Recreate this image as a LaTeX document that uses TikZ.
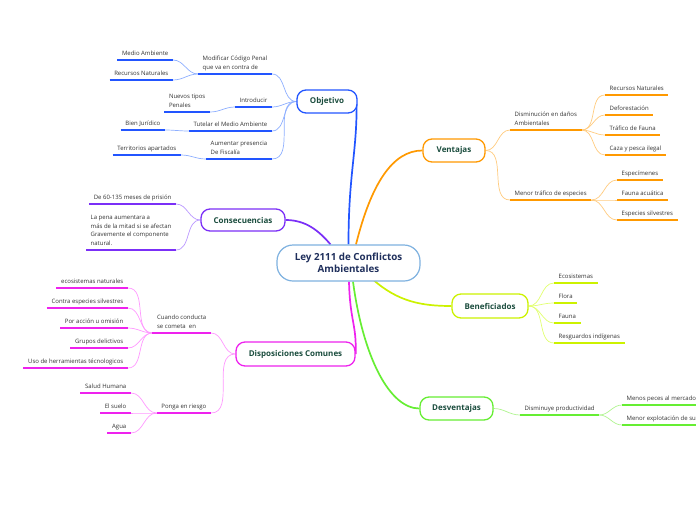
\documentclass[tikz,border=0pt]{standalone}
\usepackage{fontspec}
\setmainfont{Open Sans}
\usetikzlibrary{calc}
\definecolor{cBlue}{HTML}{2255FF}
\definecolor{lBlue}{HTML}{8FB0FF}
\definecolor{cPur}{HTML}{7B2FF7}
\definecolor{lPur}{HTML}{BB99FF}
\definecolor{cMag}{HTML}{EE22EE}
\definecolor{lMag}{HTML}{FF99FF}
\definecolor{cOra}{HTML}{FF9900}
\definecolor{lOra}{HTML}{FFCC80}
\definecolor{cYel}{HTML}{CCF200}
\definecolor{lYel}{HTML}{E2FF70}
\definecolor{cGre}{HTML}{66EE33}
\definecolor{lGre}{HTML}{B0F590}
\definecolor{topicText}{HTML}{1B4D3E}
\definecolor{rootText}{HTML}{1F2F5C}
\definecolor{rootLine}{HTML}{7FB2E0}
\definecolor{subText}{HTML}{333333}
\pgfdeclarelayer{bg}
\pgfdeclarelayer{paper}
\pgfsetlayers{paper,bg,main}
\begin{document}
\begin{tikzpicture}[x=1pt,y=-1pt,
  root/.style={draw=rootLine, line width=1.2pt, fill=white, rounded corners=16pt,
    minimum width=143pt, minimum height=36pt, font=\fontsize{9.8}{12}\selectfont\bfseries,
    text=rootText, align=center, inner sep=0pt},
  topic/.style={draw=#1, line width=1.3pt, fill=white, rounded corners=9pt,
    minimum height=23pt, font=\fontsize{8}{9}\selectfont\bfseries, text=topicText, inner sep=0pt},
  subbase/.style={font=\fontsize{6}{8.5}\selectfont, text=subText, align=left,
    inner xsep=4.5pt, inner ysep=3.3pt, text depth=1.3pt},
  lsub/.style={subbase, anchor=south east},
  rsub/.style={subbase, anchor=south west},
  ul/.style={line width=1.8pt, draw=#1},
  br/.style={line width=1.7pt, draw=#1},
  tw/.style={line width=0.7pt, draw=#1},
]
\begin{pgfonlayer}{paper}
\fill[white] (0,0) rectangle (696,520);
\end{pgfonlayer}
\useasboundingbox (0,0) rectangle (696,520);

% ---------- root and topics ----------
\node[root] (root) at (348.5,263) {Ley 2111 de Conflictos\\Ambientales};
\node[topic=cBlue, minimum width=60pt] (obj) at (327,101.5) {Objetivo};
\node[topic=cPur, minimum width=84pt, minimum height=22pt] (cons) at (243,220) {Consecuencias};
\node[topic=cMag, minimum width=119pt, minimum height=24pt] (disp) at (295.5,354) {Disposiciones Comunes};
\node[topic=cOra, minimum width=62pt] (vent) at (454,150.5) {Ventajas};
\node[topic=cYel, minimum width=76pt, minimum height=24pt] (bene) at (490,306) {Beneficiados};
\node[topic=cGre, minimum width=73pt] (desv) at (456.5,408.5) {Desventajas};

% ---------- Objetivo ----------
\node[lsub] (mod) at (272,74) {Modificar Código Penal\\que va en contra de};
\node[lsub] (intro) at (272,107) {Introducir};
\node[lsub] (tut) at (272,131) {Tutelar el Medio Ambiente};
\node[lsub] (aum) at (272,159) {Aumentar presencia\\De Fiscalía};
\node[lsub] (med) at (173,60) {Medio Ambiente};
\node[lsub] (recn) at (173,80) {Recursos Naturales};
\node[lsub] (nue) at (210,112) {Nuevos tipos\\Penales};
\node[lsub] (bien) at (165,130) {Bien Jurídico};
\node[lsub] (terr) at (181,155) {Territorios apartados};

% ---------- Consecuencias ----------
\node[lsub] (pris) at (176,204) {De 60-135 meses de prisión};
\node[lsub] (pena) at (176,250) {La pena aumentara a\\más de la mitad si se afectan\\Gravemente el componente\\natural.};

% ---------- Disposiciones ----------
\node[lsub] (cuan) at (211,333) {Cuando conducta\\se cometa\ \ en};
\node[lsub] (pong) at (211,413) {Ponga en riesgo};
\node[lsub] (eco) at (128,288) {ecosistemas naturales};
\node[lsub] (cesp) at (128,308) {Contra especies silvestres};
\node[lsub] (acc) at (128,328) {Por acción u omisión};
\node[lsub] (grup) at (128,348) {Grupos delictivos};
\node[lsub] (herr) at (128,368) {Uso de herramientas técnologicos};
\node[lsub] (salud) at (131,393) {Salud Humana};
\node[lsub] (suelo) at (131,413) {El suelo};
\node[lsub] (agua) at (131,433) {Agua};

% ---------- Ventajas ----------
\node[rsub] (dism) at (510,130) {Disminución en daños\\Ambientales};
\node[rsub] (menor) at (510,200) {Menor tráfico de especies};
\node[rsub] (vrec) at (605,95) {Recursos Naturales};
\node[rsub] (defo) at (605,115) {Deforestación};
\node[rsub] (traf) at (605,135) {Tráfico de Fauna};
\node[rsub] (caza) at (605,155) {Caza y pesca ilegal};
\node[rsub] (espe) at (617,180) {Especímenes};
\node[rsub] (faua) at (617,200) {Fauna acuática};
\node[rsub] (esil) at (617,220) {Especies silvestres};

% ---------- Beneficiados ----------
\node[rsub] (beco) at (554,283) {Ecosistemas};
\node[rsub] (flor) at (554,303) {Flora};
\node[rsub] (faun) at (554,323) {Fauna};
\node[rsub] (resg) at (554,343) {Resguardos indígenas};

% ---------- Desventajas ----------
\node[rsub] (prod) at (520,415) {Disminuye productividad};
\node[rsub] (pec) at (622,405) {Menos peces al mercado};
\node[rsub] (expl) at (622,425) {Menor explotación de su};

% ---------- underlines ----------
\foreach \n in {mod,intro,tut,aum,med,recn,nue,bien,terr}
  \draw[ul=cBlue] (\n.south west) -- (\n.south east);
\foreach \n in {pris,pena}
  \draw[ul=cPur] (\n.south west) -- (\n.south east);
\foreach \n in {cuan,pong,eco,cesp,acc,grup,herr,salud,suelo,agua}
  \draw[ul=cMag] (\n.south west) -- (\n.south east);
\foreach \n in {dism,menor,vrec,defo,traf,caza,espe,faua,esil}
  \draw[ul=cOra] (\n.south west) -- (\n.south east);
\foreach \n in {beco,flor,faun,resg}
  \draw[ul=cYel] (\n.south west) -- (\n.south east);
\foreach \n in {prod,pec,expl}
  \draw[ul=cGre] (\n.south west) -- (\n.south east);

\begin{pgfonlayer}{bg}
% main branches
\draw[br=cBlue] (root.north) .. controls +(0,-70) and +(0,50) .. ($(obj.east)+(-1,3)$);
\draw[br=cOra] ($(root.north)+(7.5,0)$) .. controls +(15,-60) and +(-30,0) .. (vent.west);
\draw[br=cPur] (cons.east) .. controls +(20,0) and +(-12,-14) .. ($(root.north)+(-18,0)$);
\draw[br=cMag] ($(root.south)+(0.5,0)$) .. controls +(1,40) and +(1,-30) .. (disp.east);
\draw[br=cGre] ($(root.south)+(4.5,0)$) .. controls +(10,75) and +(-30,0) .. (desv.west);
\draw[br=cYel] ($(root.south)+(24.5,-2)$) .. controls +(25,22) and +(-30,0) .. (bene.west);

% Objetivo
\foreach \n in {mod,intro,tut,aum}
  \draw[tw=lBlue] (obj.west) to[out=180,in=0] (\n.south east);
\foreach \n in {med,recn}
  \draw[tw=lBlue] (mod.south west) to[out=180,in=0] (\n.south east);
\draw[tw=lBlue] (intro.south west) to[out=180,in=0] (nue.south east);
\draw[tw=lBlue] (tut.south west) to[out=180,in=0] (bien.south east);
\draw[tw=lBlue] (aum.south west) to[out=180,in=0] (terr.south east);

% Consecuencias
\foreach \n in {pris,pena}
  \draw[tw=lPur] (cons.west) to[out=180,in=0] (\n.south east);

% Disposiciones
\foreach \n in {cuan,pong}
  \draw[tw=lMag] (disp.west) to[out=180,in=0] (\n.south east);
\foreach \n in {eco,cesp,acc,grup,herr}
  \draw[tw=lMag] (cuan.south west) to[out=180,in=0] (\n.south east);
\foreach \n in {salud,suelo,agua}
  \draw[tw=lMag] (pong.south west) to[out=180,in=0] (\n.south east);

% Ventajas
\foreach \n in {dism,menor}
  \draw[tw=lOra] (vent.east) to[out=0,in=180] (\n.south west);
\foreach \n in {vrec,defo,traf,caza}
  \draw[tw=lOra] (dism.south east) to[out=0,in=180] (\n.south west);
\foreach \n in {espe,faua,esil}
  \draw[tw=lOra] (menor.south east) to[out=0,in=180] (\n.south west);

% Beneficiados
\foreach \n in {beco,flor,faun,resg}
  \draw[tw=lYel] (bene.east) to[out=0,in=180] (\n.south west);

% Desventajas
\draw[tw=lGre] (desv.east) to[out=0,in=180] (prod.south west);
\foreach \n in {pec,expl}
  \draw[tw=lGre] (prod.south east) to[out=0,in=180] (\n.south west);
\end{pgfonlayer}
\end{tikzpicture}
\end{document}
